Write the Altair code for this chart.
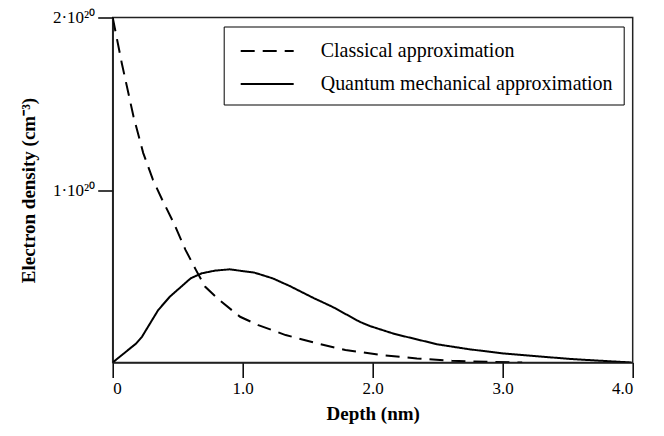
import altair as alt
import pandas as pd

# Series (depth in nm, density in units of 1e20 cm^-3)
classical_label = "Classical approximation"
quantum_label = "Quantum mechanical approximation"

classical_x = [0.0, 0.07, 0.16, 0.235, 0.31, 0.38, 0.47, 0.56, 0.64, 0.71, 0.82,
               0.98, 1.12, 1.33, 1.58, 1.79, 2.07, 2.34, 2.61, 2.88, 3.15]
classical_y = [2.0, 1.735, 1.426, 1.214, 1.059, 0.945, 0.808, 0.653, 0.537, 0.44, 0.362,
               0.265, 0.217, 0.159, 0.11, 0.072, 0.043, 0.023, 0.010, 0.004, 0.0]

quantum_x = [0.0, 0.18, 0.225, 0.35, 0.44, 0.6, 0.685, 0.79, 0.9, 1.09, 1.23, 1.36,
             1.55, 1.69, 1.9, 1.98, 2.17, 2.5, 2.74, 3.01, 3.28, 3.55, 3.99]
quantum_y = [0.0, 0.11, 0.149, 0.304, 0.382, 0.488, 0.517, 0.533, 0.54, 0.521, 0.488, 0.444,
             0.372, 0.323, 0.236, 0.211, 0.165, 0.105, 0.077, 0.052, 0.035, 0.019, 0.0]

x_ticks = [0, 1, 2, 3, 4]
y_ticks = [1e20, 2e20]

rows = []
for x, y in zip(classical_x, classical_y):
    rows.append({"depth": x, "density": y * 1e20, "series": classical_label})
for x, y in zip(quantum_x, quantum_y):
    rows.append({"depth": x, "density": y * 1e20, "series": quantum_label})
df = pd.DataFrame(rows)

FONT = "Liberation Serif"

chart = alt.Chart(df).mark_line(color="black", strokeWidth=2, clip=True).encode(
    x=alt.X(
        "depth:Q",
        scale=alt.Scale(domain=[0, 4], nice=False, zero=False),
        axis=alt.Axis(
            values=x_ticks,
            labelExpr="datum.value == 0 ? '0' : format(datum.value, '.1f')",
            title="Depth (nm)",
            titlePadding=8,
        ),
    ),
    y=alt.Y(
        "density:Q",
        scale=alt.Scale(domain=[0, 2e20], nice=False),
        axis=alt.Axis(
            values=y_ticks,
            labelExpr="datum.value > 1.5e20 ? '2\u00b710\u00b2\u2070' : '1\u00b710\u00b2\u2070'",
            title="Electron density (cm\u207b\u00b3)",
            titlePadding=14,
        ),
    ),
    strokeDash=alt.StrokeDash(
        "series:N",
        scale=alt.Scale(domain=[classical_label, quantum_label], range=[[14, 8], [1, 0]]),
        legend=alt.Legend(
            title=None,
            orient="none",
            legendX=111,
            legendY=9,
            symbolType="M-2,0L2,0",
            symbolSize=702,
            symbolStrokeWidth=2,
            symbolStrokeColor="black",
            symbolOffset=19,
            labelFont=FONT,
            labelFontSize=20,
            labelColor="black",
            labelOffset=39,
            labelLimit=500,
            rowPadding=8,
            padding=10,
            strokeColor="black",
            fillColor="white",
        ),
    ),
).properties(
    width=520,
    height=345,
    autosize=alt.AutoSizeParams(type="none"),
    padding={"left": 104.7, "top": 9.5, "right": 20, "bottom": 62},
).configure_view(
    stroke="#222", strokeWidth=1.5
).configure_axis(
    grid=False,
    domainColor="#222",
    domainWidth=1.5,
    tickColor="black",
    tickWidth=1.5,
    tickSize=15,
    labelFont=FONT,
    labelFontSize=17,
    labelColor="black",
    labelPadding=3,
    titleFont=FONT,
    titleFontSize=19,
    titleFontWeight="bold",
    titleColor="black",
)

chart.save("out.html", embed_options={"renderer": "svg", "actions": False})
